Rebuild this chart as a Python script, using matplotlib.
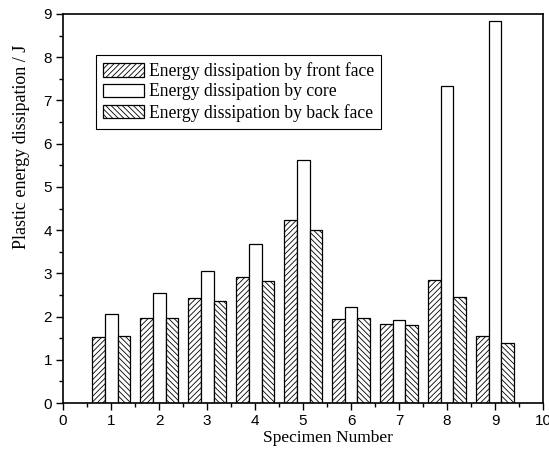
import matplotlib
matplotlib.use("Agg")
import matplotlib.pyplot as plt
import numpy as np
from matplotlib.ticker import MultipleLocator

specimens = [1, 2, 3, 4, 5, 6, 7, 8, 9]
front_face = [1.53, 1.96, 2.42, 2.92, 4.23, 1.94, 1.82, 2.84, 1.54]
core = [2.07, 2.55, 3.06, 3.68, 5.63, 2.22, 1.92, 7.33, 8.83]
back_face = [1.56, 1.96, 2.37, 2.82, 4.00, 1.96, 1.80, 2.45, 1.38]
labels = ["Energy dissipation by front face",
          "Energy dissipation by core",
          "Energy dissipation by back face"]

plt.rcParams['hatch.linewidth'] = 0.6
fig = plt.figure(figsize=(5.49, 4.5), dpi=100)
ax = fig.add_axes([0.1148, 0.1044, 0.8743, 0.8645])

x = np.array(specimens, dtype=float)
w = 0.27
ax.bar(x - w, front_face, w, facecolor='white', edgecolor='black', hatch='//////', linewidth=0.9, label=labels[0])
ax.bar(x, core, w, facecolor='white', edgecolor='black', linewidth=0.9, label=labels[1])
ax.bar(x + w, back_face, w, facecolor='white', edgecolor='black', hatch='\\\\\\\\\\\\', linewidth=0.9, label=labels[2])

ax.set_xlim(0, 10)
ax.set_ylim(0, 9)
ax.xaxis.set_major_locator(MultipleLocator(1))
ax.xaxis.set_minor_locator(MultipleLocator(0.5))
ax.yaxis.set_major_locator(MultipleLocator(1))
ax.yaxis.set_minor_locator(MultipleLocator(0.5))
ax.tick_params(which='major', direction='out', length=5, width=1.0, labelsize=11, pad=3)
ax.tick_params(which='minor', direction='out', length=3, width=1.0)
for lab in ax.get_xticklabels() + ax.get_yticklabels():
    lab.set_fontfamily('Liberation Sans')
for s in ax.spines.values():
    s.set_linewidth(1.2)

ax.set_xlabel("Specimen Number", family='Liberation Serif', fontsize=12.5, labelpad=0)
ax.xaxis.set_label_coords(0.551, -0.07)
ax.set_ylabel("Plastic energy dissipation / J", family='Liberation Serif', fontsize=13)
ax.yaxis.set_label_coords(-0.068, 0.658)

leg = ax.legend(loc='upper left', bbox_to_anchor=(0.069, 0.8946), prop={'family': 'Liberation Serif', 'size': 12.7},
                frameon=True, fancybox=False, edgecolor='black', framealpha=1,
                handlelength=2.3, handleheight=0.8, handletextpad=0.3, labelspacing=0.2,
                borderpad=0.4, borderaxespad=0)
leg.get_frame().set_linewidth(0.8)

fig.savefig("out.png", dpi=100)
